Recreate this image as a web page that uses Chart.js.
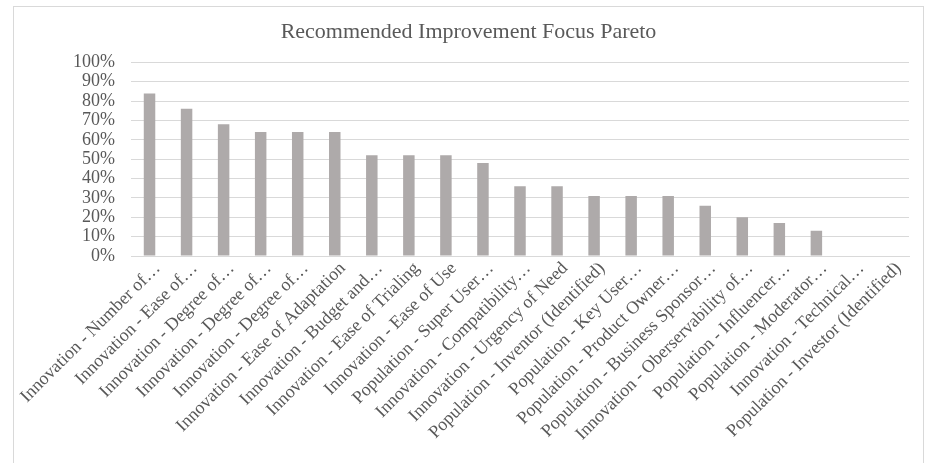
<!DOCTYPE html>
<html>
<head>
<meta charset="utf-8">
<script src="https://cdn.jsdelivr.net/npm/chart.js@4/dist/chart.umd.min.js"></script>
<style>
  html, body { margin: 0; padding: 0; background: #ffffff; overflow: hidden; }
  #wrap { position: relative; width: 926px; height: 463px; overflow: hidden; }
  #frame { position: absolute; left: 13px; top: 6px; width: 911px; height: 480px; border: 1px solid #d9d9d9; box-sizing: border-box; }
  #c { position: absolute; left: 0; top: 0; }
</style>
</head>
<body>
<div id="wrap">
  <div id="frame"></div>
  <canvas id="c" width="926" height="463"></canvas>
</div>
<script>
// Improvement focus areas, in Pareto order
const categories = [
  "Innovation - Number of…",
  "Innovation - Ease of…",
  "Innovation - Degree of…",
  "Innovation - Degree of…",
  "Innovation - Degree of…",
  "Innovation - Ease of Adaptation",
  "Innovation - Budget and…",
  "Innovation - Ease of Trialing",
  "Innovation - Ease of Use",
  "Population - Super User…",
  "Innovation - Compatibility…",
  "Innovation - Urgency of Need",
  "Population - Inventor (Identified)",
  "Population - Key User…",
  "Population - Product Owner…",
  "Population - Business Sponsor…",
  "Innovation - Oberservability of…",
  "Population - Influencer…",
  "Population - Moderator…",
  "Innovation - Technical…",
  "Population - Investor (Identified)"
];

// Share of responses recommending each area
const focusShare = [0.84, 0.76, 0.68, 0.64, 0.64, 0.64, 0.52, 0.52, 0.52, 0.48, 0.36, 0.36, 0.31, 0.31, 0.31, 0.26, 0.20, 0.17, 0.13, 0, 0];

const yTickValues = [0, 0.1, 0.2, 0.3, 0.4, 0.5, 0.6, 0.7, 0.8, 0.9, 1.0];

const chartTitle = "Recommended Improvement Focus Pareto";

const serif = "'Liberation Serif', 'Times New Roman', serif";
const textColor = "#595959";

new Chart(document.getElementById('c'), {
  type: 'bar',
  data: {
    labels: categories,
    datasets: [{
      data: focusShare,
      backgroundColor: '#aeaaaa',
      borderWidth: 0,
      barPercentage: 0.31,
      categoryPercentage: 1.0
    }]
  },
  options: {
    responsive: false,
    animation: false,
    layout: { padding: { left: 28, right: 17, top: 0, bottom: 0 } },
    plugins: {
      legend: { display: false },
      tooltip: { enabled: false },
      title: {
        display: true,
        text: chartTitle,
        color: textColor,
        font: { family: serif, size: 22, weight: 'normal' },
        padding: { top: 19, bottom: 17 }
      }
    },
    scales: {
      x: {
        grid: { display: false, drawTicks: false },
        border: { display: true, color: '#d9d9d9', width: 1 },
        ticks: {
          autoSkip: false,
          minRotation: 45,
          maxRotation: 45,
          padding: 2,
          labelOffset: 8,
          color: textColor,
          font: { family: serif, size: 18 }
        },
        afterFit: (scale) => { scale.height = 207; }
      },
      y: {
        min: 0,
        max: 1,
        afterBuildTicks: (scale) => { scale.ticks = yTickValues.map(v => ({ value: v })); },
        grid: { color: '#d9d9d9', drawTicks: false, lineWidth: 1 },
        border: { display: false },
        ticks: {
          autoSkip: false,
          padding: 16,
          color: textColor,
          font: { family: serif, size: 18 },
          callback: (v) => Math.round(v * 100) + '%'
        },
        afterFit: (scale) => { scale.width = 103; }
      }
    }
  }
});
</script>
</body>
</html>
